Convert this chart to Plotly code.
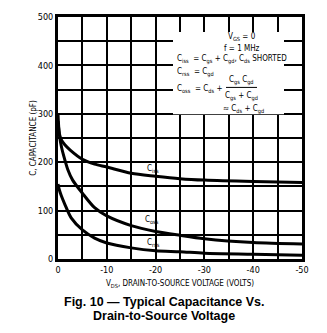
import plotly.graph_objects as go

# Data (VDS in volts, capacitance in pF)
v_ciss = [0, -0.3, -0.7, -1.4, -2.5, -5, -7.5, -10, -15, -20, -25, -30, -40, -50]
ciss = [300, 258, 246, 236, 225, 206, 196, 190, 177, 171, 166, 163, 160, 158]

v_coss = [0, -0.3, -0.7, -1.2, -2, -3, -5, -7.5, -10, -15, -20, -25, -30, -40, -50]
coss = [285, 255, 232, 212, 185, 163, 136, 106, 89, 69, 57, 49, 42, 34, 31]

v_crss = [0, -0.3, -0.7, -1.4, -2.7, -5, -7.5, -10, -15, -20, -25, -30, -40, -50]
crss = [155, 142, 130, 113, 85, 60, 43, 33, 23, 17, 15, 12, 10, 8]

x_ticks = [0, -10, -20, -30, -40, -50]
x_ticktext = ["0", "-10", "-20", "-30", "-40", "-50"]
y_ticks = [0, 100, 200, 300, 400, 500]

NARROW = "Liberation Sans Narrow, DejaVu Sans Condensed, Arial Narrow, sans-serif"

fig = go.Figure()
for xs, ys in [(v_ciss, ciss), (v_coss, coss), (v_crss, crss)]:
    fig.add_trace(go.Scatter(x=xs, y=ys, mode="lines",
                             line=dict(color="black", width=3, shape="spline", smoothing=0.8),
                             showlegend=False, hoverinfo="skip"))

fig.update_layout(
    width=327, height=333,
    margin=dict(l=58, r=25, t=15, b=74),
    paper_bgcolor="white", plot_bgcolor="white",
    font=dict(family=NARROW, color="black", size=8),
)
fig.update_xaxes(
    range=[0, -50], tickvals=x_ticks, ticktext=x_ticktext,
    showgrid=True, gridcolor="black", gridwidth=1.5,
    minor=dict(dtick=5, showgrid=True, gridcolor="black", gridwidth=1.5),
    showline=True, linecolor="black", linewidth=3, mirror=True,
    ticks="", zeroline=False, tickfont=dict(size=9, family=NARROW),
    title=dict(text="V<sub>DS</sub>, DRAIN-TO-SOURCE VOLTAGE (VOLTS)",
               font=dict(size=8, family=NARROW), standoff=7),
)
fig.update_yaxes(
    range=[0, 500], tickvals=y_ticks,
    showgrid=True, gridcolor="black", gridwidth=1.5,
    minor=dict(dtick=50, showgrid=True, gridcolor="black", gridwidth=1.5),
    showline=True, linecolor="black", linewidth=3, mirror=True,
    ticks="", zeroline=False, tickfont=dict(size=9, family=NARROW),
    title=dict(text="C, CAPACITANCE (pF)", font=dict(size=8, family=NARROW), standoff=0),
)

def px(x):
    return (x - 58) / 244.0

def py(y):
    return (259 - y) / 244.0

# white box behind the formula text
fig.add_shape(type="rect", xref="paper", yref="paper",
              x0=px(173), x1=px(284), y0=py(113), y1=py(30),
              fillcolor="white", line=dict(width=0), layer="above")

anns = [
    ("V<sub>GS</sub> = 0", 242, 35, "center"),
    ("f = 1 MHz", 242, 47, "center"),
    ("C<sub>iss</sub>  = C<sub>gs</sub> + C<sub>gd</sub>, C<sub>ds</sub> SHORTED", 175, 58, "left"),
    ("C<sub>rss</sub>  = C<sub>gd</sub>", 175, 71, "left"),
    ("C<sub>oss</sub>  = C<sub>ds</sub> +", 175, 88, "left"),
    ("C<sub>gs</sub> C<sub>gd</sub>", 241, 79, "center"),
    ("C<sub>gs</sub> + C<sub>gd</sub>", 241, 95, "center"),
    ("≈ C<sub>ds</sub> + C<sub>gd</sub>", 243, 108, "center"),
]
for text, x, y, al in anns:
    fig.add_annotation(xref="paper", yref="paper", x=px(x), y=py(y), text=text,
                       showarrow=False, xanchor=al, yanchor="middle",
                       font=dict(size=8, family=NARROW, color="black"))
fig.add_shape(type="line", xref="paper", yref="paper",
              x0=px(226), x1=px(257), y0=py(86), y1=py(86),
              line=dict(color="black", width=1), layer="above")

# curve labels
for text, x, y in [("C<sub>iss</sub>", 153, 168), ("C<sub>oss</sub>", 152, 220), ("C<sub>rss</sub>", 153, 243)]:
    fig.add_annotation(xref="paper", yref="paper", x=px(x), y=py(y), text=text,
                       showarrow=False, xanchor="center", yanchor="middle",
                       font=dict(size=8, family=NARROW, color="black"))

# caption
CAP = "Liberation Sans Narrow, Arial Narrow, sans-serif"
fig.add_annotation(xref="paper", yref="paper", x=px(164), y=py(302),
                   text="<b>Fig. 10 — Typical Capacitance Vs.</b>", showarrow=False,
                   xanchor="center", yanchor="middle", font=dict(size=12.5, family=CAP))
fig.add_annotation(xref="paper", yref="paper", x=px(164), y=py(316),
                   text="<b>Drain-to-Source Voltage</b>", showarrow=False,
                   xanchor="center", yanchor="middle", font=dict(size=12.5, family=CAP))

fig.write_html("out.html")
